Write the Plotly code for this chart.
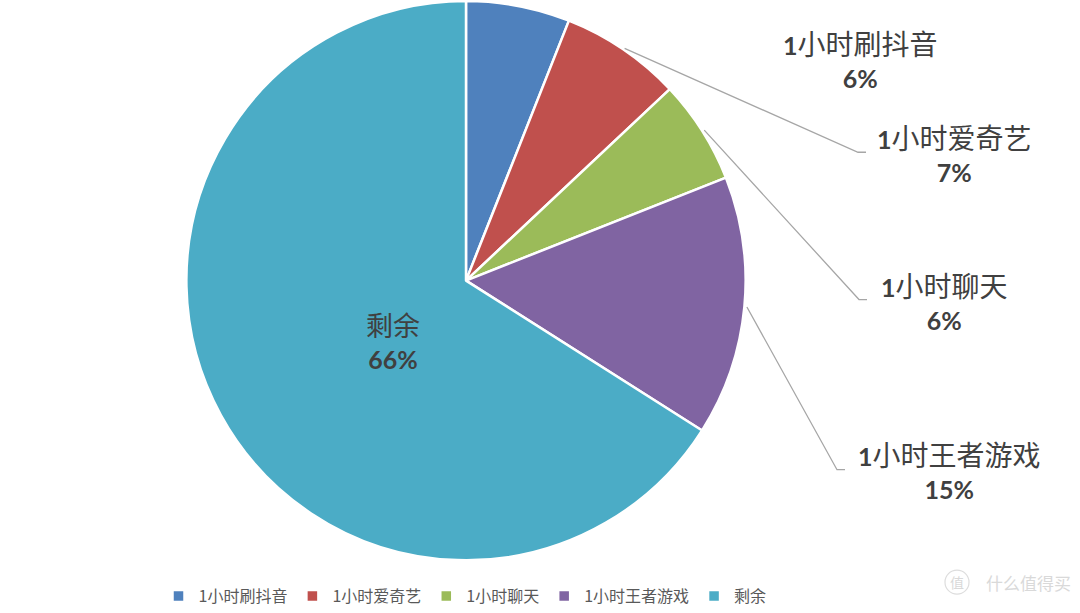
import math
import plotly.graph_objects as go

# ---------------- data ----------------
categories = ["1小时刷抖音", "1小时爱奇艺", "1小时聊天", "1小时王者游戏", "剩余"]
values = [6, 7, 6, 15, 66]
colors = ["#4F81BD", "#C0504D", "#9BBB59", "#8064A2", "#4BACC6"]

# ---------------- layout constants (px) ----------------
W, H = 1080, 613
CX, CY, R = 466, 282, 281
R_DRAWN = 278
# label centres (px) and leader-line end points (px); None = no leader line
label_pos = [(860, 60), (954, 155), (944, 303), (949, 473), (393, 343)]
line_end = [None, (858, 153), (859, 301), (837, 472), None]
line_tail = 8

def px(x):
    return x / W

def py(y):
    return 1 - y / H

fig = go.Figure()
fig.add_trace(go.Pie(
    labels=categories,
    values=values,
    sort=False,
    direction="clockwise",
    rotation=0,
    marker=dict(colors=colors, line=dict(color="white", width=2.5)),
    textinfo="none",
    hoverinfo="label+percent",
    domain=dict(x=[px(CX - R), px(CX + R)], y=[py(CY + R), py(CY - R)]),
))

total = sum(values)
annotations = []
shapes = []
cum = 0
for i, (cat, v) in enumerate(zip(categories, values)):
    pct = round(100 * v / total)
    mid = (cum + v / 2) / total * 2 * math.pi
    cum += v
    lx, ly = label_pos[i]
    cn_size = 28 if cat.startswith("1") else 27
    CN = '<span style="font-size:%dpx">%%s</span>' % cn_size
    if cat.startswith("1"):
        txt = "<b>1</b>" + CN % cat[1:] + "<br><b>%d%%</b>" % pct
    else:
        txt = CN % cat + "<br><b>%d%%</b>" % pct
    annotations.append(dict(
        x=px(lx), y=py(ly), xref="paper", yref="paper",
        text=txt, showarrow=False, xanchor="center", yanchor="middle",
        align="center",
        font=dict(family="Lato, Noto Sans CJK SC", size=25, color="#404040"),
    ))
    if line_end[i] is not None:
        sx = CX + R_DRAWN * 1.015 * math.sin(mid)
        sy = CY - R_DRAWN * 1.015 * math.cos(mid)
        ex, ey = line_end[i]
        path = "M %f %f L %f %f L %f %f" % (
            px(sx), py(sy), px(ex), py(ey), px(ex + line_tail), py(ey))
        shapes.append(dict(type="path", xref="paper", yref="paper", path=path,
                           line=dict(color="#A6A6A6", width=1.3)))

# watermark
annotations.append(dict(
    x=px(984), y=py(585), xref="paper", yref="paper", text="什么值得买",
    showarrow=False, xanchor="left", yanchor="middle",
    font=dict(family="Noto Sans CJK SC", size=17, color="#D9D9D9"),
))
annotations.append(dict(
    x=px(957), y=py(585), xref="paper", yref="paper", text="值",
    showarrow=False, xanchor="center", yanchor="middle",
    font=dict(family="Noto Sans CJK SC", size=14, color="#D9D9D9"),
))
shapes.append(dict(type="circle", xref="paper", yref="paper",
                   x0=px(945), x1=px(969), y0=py(597), y1=py(573),
                   line=dict(color="#DDDDDD", width=1.2)))

fig.update_layout(
    width=W, height=H,
    margin=dict(l=0, r=0, t=0, b=0),
    paper_bgcolor="white",
    plot_bgcolor="white",
    showlegend=True,
    legend=dict(
        orientation="h", x=px(465), xanchor="center", y=py(599), yanchor="middle",
        font=dict(family="Noto Sans CJK SC", size=16, color="#595959"),
        itemwidth=30, tracegroupgap=0,
    ),
    annotations=annotations,
    shapes=shapes,
)

fig.write_html("out.html", config={"displayModeBar": False},
               post_script="document.body.style.margin='0px';")
